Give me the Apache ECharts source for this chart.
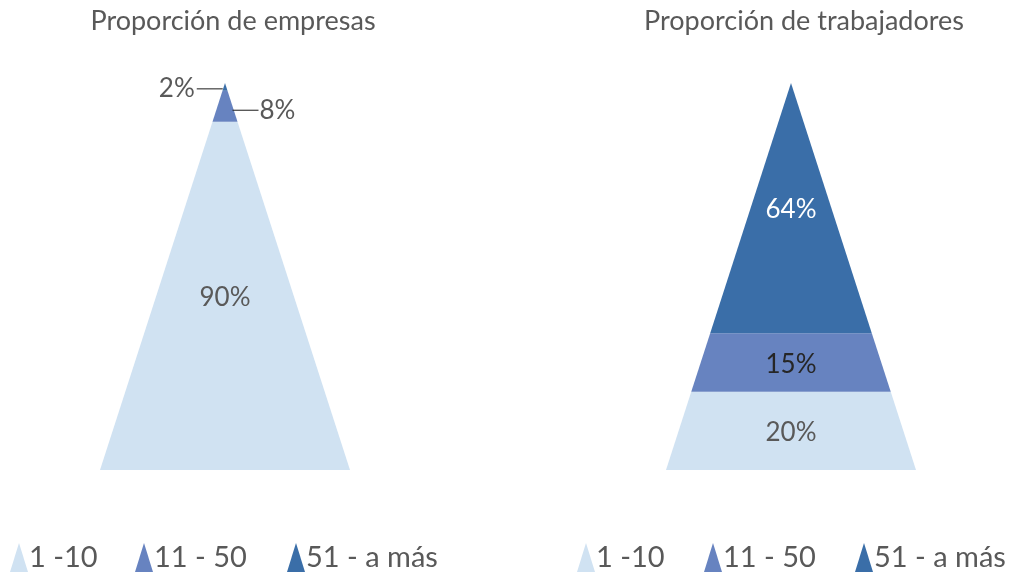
<!DOCTYPE html>
<html>
<head>
<meta charset="utf-8">
<script src="https://cdn.jsdelivr.net/npm/echarts@6/dist/echarts.min.js"></script>
<style>
html,body{margin:0;padding:0;background:#fff;}
#chart{width:1009px;height:576px;}
</style>
</head>
<body>
<div id="chart"></div>
<script>
const categories = ['1 -10', '11 - 50', '51 - a más'];
const empresas = [90, 8, 2];
const trabajadores = [20, 15, 64];
const titles = ['Proporción de empresas', 'Proporción de trabajadores'];
const colors = ['#d0e2f2', '#6783c0', '#3a6ea8'];
const insideLabelColors = ['#595959', '#262626', '#ffffff'];

const FONT = 'Lato';
const GRAY = '#595959';

function buildSeries(values, chartIdx) {
  const total = values.reduce((a, b) => a + b, 0);
  let cum = 0;
  return values.map((v, i) => {
    const lo = cum / total;
    cum += v;
    const hi = cum / total;
    return {
      type: 'custom',
      name: categories[i],
      xAxisIndex: chartIdx,
      yAxisIndex: chartIdx,
      itemStyle: { color: colors[i] },
      data: [[lo, hi, v, i]],
      renderItem: function (params, api) {
        const lo = api.value(0), hi = api.value(1), val = api.value(2), idx = api.value(3);
        const p1 = api.coord([0.5 * lo, lo]);
        const p2 = api.coord([1 - 0.5 * lo, lo]);
        const p3 = api.coord([1 - 0.5 * hi, hi]);
        const p4 = api.coord([0.5 * hi, hi]);
        const children = [{
          type: 'polygon',
          shape: { points: [p1, p2, p3, p4] },
          style: { fill: colors[idx] }
        }];
        const midFrac = (lo + hi) / 2;
        const text = val + '%';
        if (hi - lo >= 0.1) {
          const c = api.coord([0.5, midFrac]);
          children.push({
            type: 'text',
            style: { text: text, x: c[0], y: c[1] + 2, textAlign: 'center', textVerticalAlign: 'middle',
                     fill: insideLabelColors[idx], font: '26px ' + FONT }
          });
        } else {
          const isTop = hi >= 0.999;
          const edgeL = api.coord([0.5 * midFrac, midFrac]);
          const edgeR = api.coord([1 - 0.5 * midFrac, midFrac]);
          if (isTop) {
            const x0 = edgeL[0] - 1, x1 = x0 - 26;
            children.push({ type: 'line', shape: { x1: x0, y1: edgeL[1] + 2, x2: x1, y2: edgeL[1] + 2 },
                            style: { stroke: '#1a1a1a', lineWidth: 1 } });
            children.push({ type: 'text', style: { text: text, x: x1 - 2, y: edgeL[1] + 2, textAlign: 'right',
                            textVerticalAlign: 'middle', fill: GRAY, font: '26px ' + FONT } });
          } else {
            const x0 = edgeR[0], x1 = x0 + 26;
            children.push({ type: 'line', shape: { x1: x0, y1: edgeR[1] + 4, x2: x1, y2: edgeR[1] + 4 },
                            style: { stroke: '#1a1a1a', lineWidth: 1 } });
            children.push({ type: 'text', style: { text: text, x: x1 + 1, y: edgeR[1] + 4, textAlign: 'left',
                            textVerticalAlign: 'middle', fill: GRAY, font: '26px ' + FONT } });
          }
        }
        return { type: 'group', children: children };
      }
    };
  });
}

const chart = echarts.init(document.getElementById('chart'));
const axisHidden = { type: 'value', min: 0, max: 1, show: false };
const legendLefts = [[10, 135, 287], [577, 704, 855]];
const legends = [];
legendLefts.forEach(row => row.forEach((x, i) => {
  legends.push({
    icon: 'triangle', itemWidth: 18, itemHeight: 29, top: 543, left: x, padding: 0,
    selectedMode: false,
    textStyle: { fontFamily: FONT, fontSize: 29, color: GRAY, padding: [2, 0, 0, -4] },
    data: [categories[i]]
  });
}));
chart.setOption({
  animation: false,
  backgroundColor: '#ffffff',
  title: [
    { text: titles[0], left: 228, top: 3, textAlign: 'center',
      textStyle: { fontFamily: FONT, fontSize: 27, fontWeight: 'normal', color: GRAY } },
    { text: titles[1], left: 799, top: 3, textAlign: 'center',
      textStyle: { fontFamily: FONT, fontSize: 27, fontWeight: 'normal', color: GRAY } }
  ],
  grid: [
    { left: 100, top: 83, width: 250, height: 387 },
    { left: 666, top: 83, width: 250, height: 387 }
  ],
  xAxis: [Object.assign({ gridIndex: 0 }, axisHidden), Object.assign({ gridIndex: 1 }, axisHidden)],
  yAxis: [Object.assign({ gridIndex: 0 }, axisHidden), Object.assign({ gridIndex: 1 }, axisHidden)],
  legend: legends,
  series: buildSeries(empresas, 0).concat(buildSeries(trabajadores, 1))
});
</script>
</body>
</html>
